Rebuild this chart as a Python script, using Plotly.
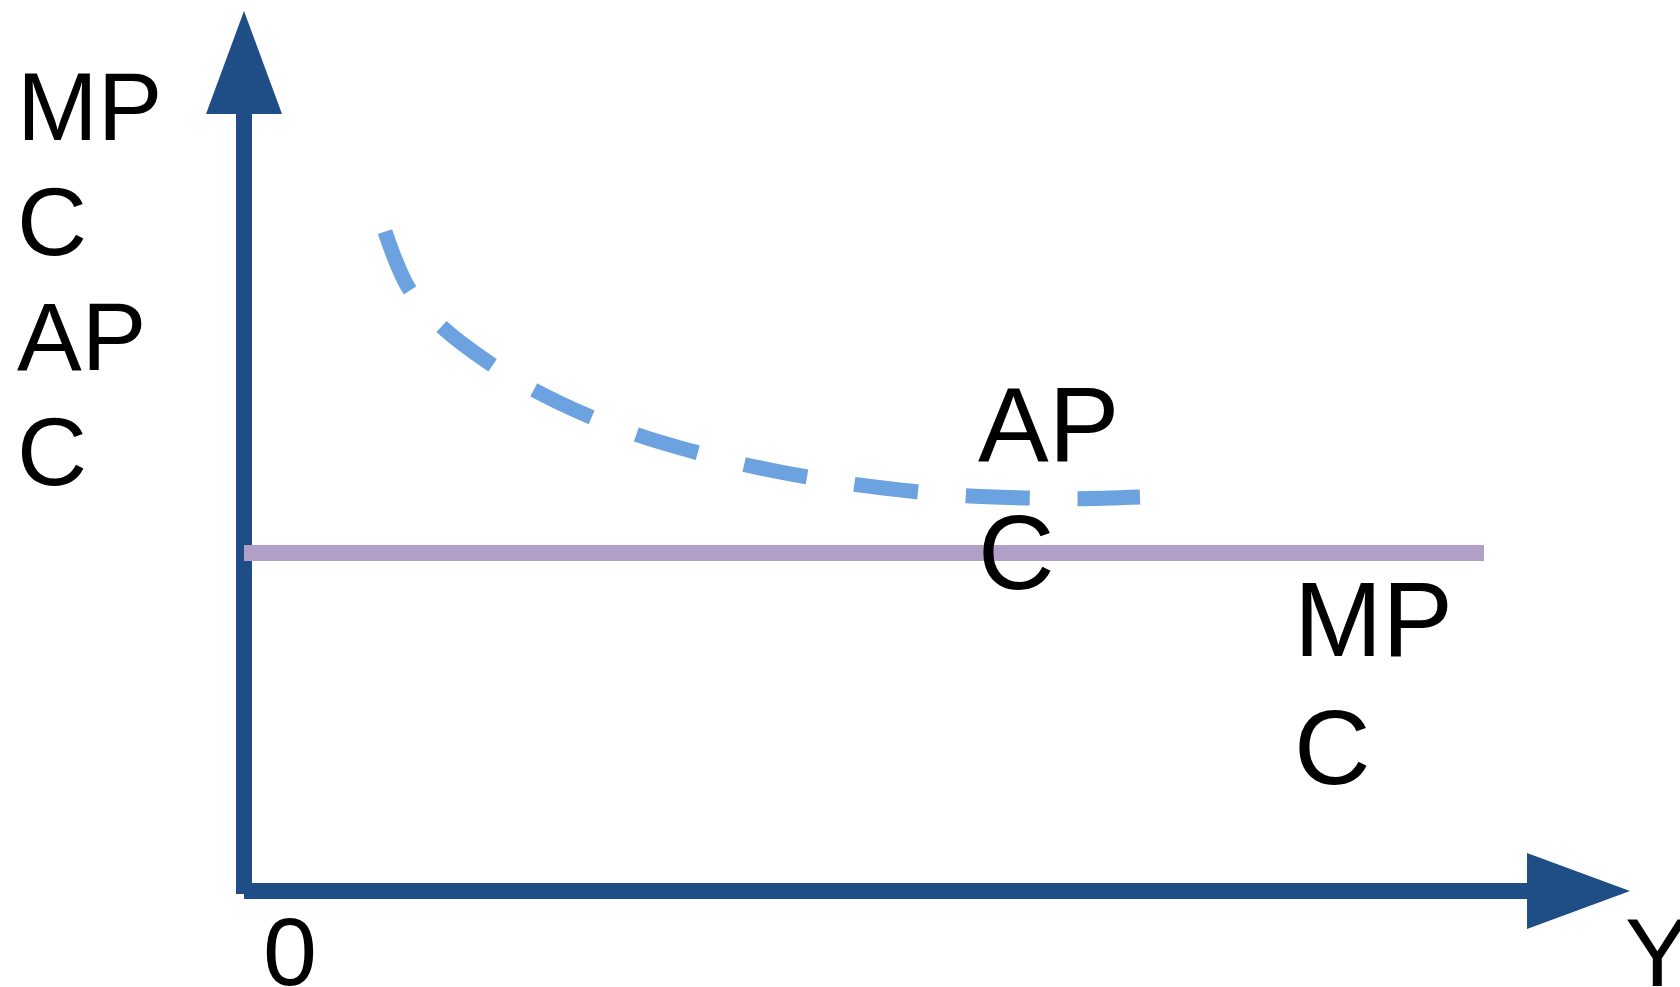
import plotly.graph_objects as go

# Diagram units: origin at the corner of the axes, 1 unit = 10 px.
# Axes (shaft end points and arrowheads)
y_axis_x = [0, 0]
y_axis_y = [-0.3, 77.7]
y_head_x = [-3.8, 0, 3.8, -3.8]
y_head_y = [77.7, 88.0, 77.7, 77.7]
x_axis_x = [0, 128.3]
x_axis_y = [0, 0]
x_head_x = [128.3, 138.6, 128.3, 128.3]
x_head_y = [3.8, 0, -3.8, 3.8]

# MPC: flat line
mpc_x = [0, 124.0]
mpc_y = [33.8, 33.8]

# APC: falling dashed curve
apc_x = [14.10, 15.14, 16.53, 19.70, 24.67, 29.00, 34.60, 39.20, 45.20,
         49.93, 56.17, 60.93, 67.27, 72.10, 78.40, 83.20, 89.60]
apc_y = [65.93, 63.10, 60.20, 56.50, 52.70, 50.10, 47.43, 45.66, 43.87,
         42.67, 41.43, 40.67, 39.93, 39.52, 39.30, 39.23, 39.40]

# labels (each wrapped line is its own text)
axis_label_lines = ["MP", "C", "AP", "C"]
apc_label_lines = ["AP", "C"]
mpc_label_lines = ["MP", "C"]
origin_label = "0"
x_label = "Y"

AXIS_BLUE = "#1F4E86"
APC_BLUE = "#6CA2DF"
MPC_LILAC = "#B29FC7"
FONT = "Arial, Liberation Sans, sans-serif"

fig = go.Figure()
fig.add_trace(go.Scatter(x=y_axis_x, y=y_axis_y, mode="lines",
                         line={"color": AXIS_BLUE, "width": 16}))
fig.add_trace(go.Scatter(x=y_head_x, y=y_head_y, mode="lines", fill="toself",
                         fillcolor=AXIS_BLUE, line={"width": 0}))
fig.add_trace(go.Scatter(x=x_axis_x, y=x_axis_y, mode="lines",
                         line={"color": AXIS_BLUE, "width": 16}))
fig.add_trace(go.Scatter(x=x_head_x, y=x_head_y, mode="lines", fill="toself",
                         fillcolor=AXIS_BLUE, line={"width": 0}))
fig.add_trace(go.Scatter(x=mpc_x, y=mpc_y, mode="lines",
                         line={"color": MPC_LILAC, "width": 16}))
fig.add_trace(go.Scatter(x=apc_x, y=apc_y, mode="lines",
                         line={"color": APC_BLUE, "width": 15, "shape": "spline",
                               "smoothing": 1, "dash": "64px,48px"}))


def add_lines(lines, x, y_top, step, size):
    for i, t in enumerate(lines):
        fig.add_annotation(x=x, y=y_top - i * step, text=t, showarrow=False,
                           xanchor="left", yanchor="middle",
                           font={"family": FONT, "size": size, "color": "black"})


add_lines(axis_label_lines, -22.9, 78.5, 11.5, 97)
add_lines(apc_label_lines, 73.2, 46.7, 12.8, 106)
add_lines(mpc_label_lines, 104.8, 27.2, 12.8, 106)
fig.add_annotation(x=4.6, y=-6.0, text=origin_label, showarrow=False,
                   xanchor="center", yanchor="middle",
                   font={"family": FONT, "size": 97, "color": "black"})
fig.add_annotation(x=137.9, y=-6.1, text=x_label, showarrow=False,
                   xanchor="left", yanchor="middle",
                   font={"family": FONT, "size": 97, "color": "black"})

fig.update_layout(
    width=1680, height=987,
    margin={"l": 0, "r": 0, "t": 0, "b": 0},
    paper_bgcolor="white", plot_bgcolor="white",
    showlegend=False,
    xaxis={"range": [-24.4, 143.6], "visible": False, "fixedrange": True},
    yaxis={"range": [-9.6, 89.1], "visible": False, "fixedrange": True},
)
# drop the default body margin so the figure fills the window exactly
fig.write_html("out.html", post_script="document.body.style.margin = '0';",
               config={"displayModeBar": False})
